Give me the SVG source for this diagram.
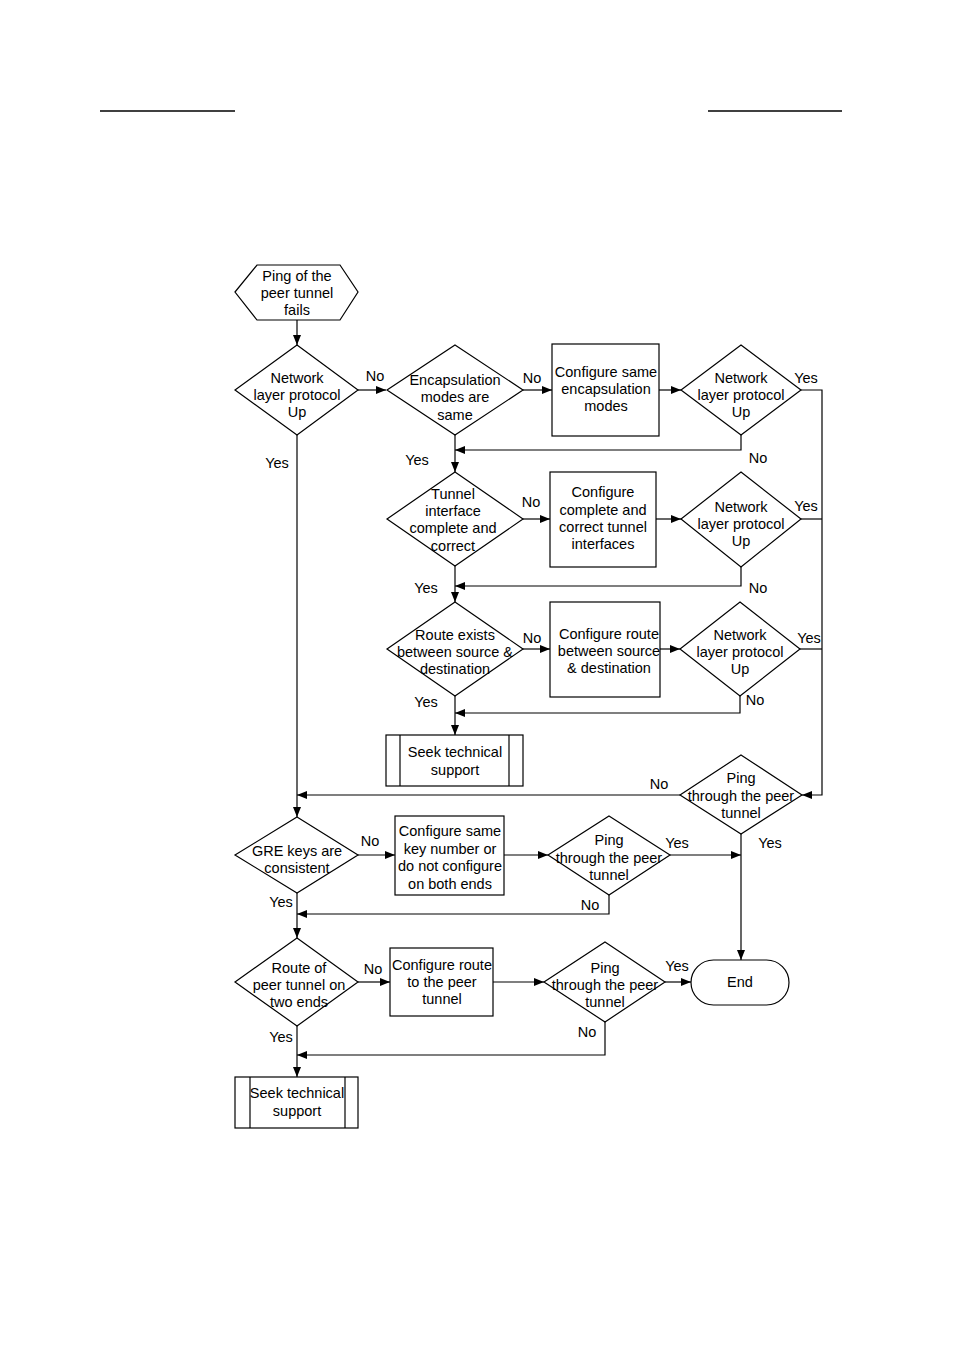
<svg xmlns="http://www.w3.org/2000/svg" width="954" height="1350" viewBox="0 0 954 1350">
<style>
.s{fill:#fff;stroke:#000;stroke-width:1.2}
.l{fill:none;stroke:#000;stroke-width:1.2}
text{font-family:"Liberation Sans",Arial,sans-serif;font-size:14.5px;fill:#000;text-anchor:middle}
</style>
<defs>
<marker id="a" viewBox="0 0 10 8" refX="10" refY="4" markerWidth="10" markerHeight="8" markerUnits="userSpaceOnUse" orient="auto">
<path d="M0,0 L10,4 L0,8 Z" fill="#000"/>
</marker>
</defs>
<rect width="954" height="1350" fill="#fff"/>
<g id="header">
<line x1="100" y1="111" x2="235" y2="111" stroke="#000" stroke-width="1.5"/>
<line x1="708" y1="111" x2="842" y2="111" stroke="#000" stroke-width="1.5"/>
</g>
<g id="connectors">
<path class="l" d="M297,320 V345" marker-end="url(#a)"/>
<path class="l" d="M358,390 H386" marker-end="url(#a)"/>
<path class="l" d="M523,390 H552" marker-end="url(#a)"/>
<path class="l" d="M659,390 H681" marker-end="url(#a)"/>
<path class="l" d="M741,435 V450 H455" marker-end="url(#a)"/>
<path class="l" d="M455,435 V472" marker-end="url(#a)"/>
<path class="l" d="M523,519 H550" marker-end="url(#a)"/>
<path class="l" d="M656,519 H681" marker-end="url(#a)"/>
<path class="l" d="M741,567 V586 H455" marker-end="url(#a)"/>
<path class="l" d="M455,566 V602" marker-end="url(#a)"/>
<path class="l" d="M523,649 H550" marker-end="url(#a)"/>
<path class="l" d="M660,649 H680" marker-end="url(#a)"/>
<path class="l" d="M740,696 V713 H455" marker-end="url(#a)"/>
<path class="l" d="M455,696 V735" marker-end="url(#a)"/>
<path class="l" d="M801,390 H822 V795 H802" marker-end="url(#a)"/>
<path class="l" d="M801,519 H822"/>
<path class="l" d="M800,649 H822"/>
<path class="l" d="M680,795 H297" marker-end="url(#a)"/>
<path class="l" d="M297,435 V817" marker-end="url(#a)"/>
<path class="l" d="M741,834 V960" marker-end="url(#a)"/>
<path class="l" d="M358,855 H395" marker-end="url(#a)"/>
<path class="l" d="M504,855 H548" marker-end="url(#a)"/>
<path class="l" d="M670,855 H741" marker-end="url(#a)"/>
<path class="l" d="M609,895 V914 H297" marker-end="url(#a)"/>
<path class="l" d="M297,893 V938" marker-end="url(#a)"/>
<path class="l" d="M358,982 H390" marker-end="url(#a)"/>
<path class="l" d="M493,982 H544" marker-end="url(#a)"/>
<path class="l" d="M665,982 H691" marker-end="url(#a)"/>
<path class="l" d="M605,1022 V1055 H297" marker-end="url(#a)"/>
<path class="l" d="M297,1026 V1077" marker-end="url(#a)"/>
<text x="375" y="381">No</text>
<text x="532" y="383">No</text>
<text x="806" y="383">Yes</text>
<text x="758" y="463">No</text>
<text x="417" y="465">Yes</text>
<text x="277" y="468">Yes</text>
<text x="531" y="507">No</text>
<text x="806" y="511">Yes</text>
<text x="758" y="593">No</text>
<text x="426" y="593">Yes</text>
<text x="532" y="643">No</text>
<text x="809" y="643">Yes</text>
<text x="755" y="705">No</text>
<text x="426" y="707">Yes</text>
<text x="659" y="789">No</text>
<text x="770" y="848">Yes</text>
<text x="370" y="846">No</text>
<text x="677" y="848">Yes</text>
<text x="590" y="910">No</text>
<text x="281" y="907">Yes</text>
<text x="373" y="974">No</text>
<text x="677" y="971">Yes</text>
<text x="587" y="1037">No</text>
<text x="281" y="1042">Yes</text>
</g>
<g id="start">
<polygon class="s" points="235,292 257,265 340,265 358,292 340,320 257,320"/>
<text x="297" y="281">Ping of the</text>
<text x="297" y="298">peer tunnel</text>
<text x="297" y="315">fails</text>
</g>
<g id="d1">
<polygon class="s" points="297,345 358,390 297,435 235,390"/>
<text x="297" y="383">Network</text>
<text x="297" y="400">layer protocol</text>
<text x="297" y="417">Up</text>
</g>
<g id="d2">
<polygon class="s" points="455,345 523,390 455,435 387,390"/>
<text x="455" y="385">Encapsulation</text>
<text x="455" y="402">modes are</text>
<text x="455" y="420">same</text>
</g>
<g id="b1">
<rect class="s" x="552" y="344" width="107" height="92"/>
<text x="606" y="377">Configure same</text>
<text x="606" y="394">encapsulation</text>
<text x="606" y="411">modes</text>
</g>
<g id="d3">
<polygon class="s" points="741,345 801,390 741,435 681,390"/>
<text x="741" y="383">Network</text>
<text x="741" y="400">layer protocol</text>
<text x="741" y="417">Up</text>
</g>
<g id="d4">
<polygon class="s" points="455,472 523,519 455,566 387,519"/>
<text x="453" y="499">Tunnel</text>
<text x="453" y="516">interface</text>
<text x="453" y="533">complete and</text>
<text x="453" y="551">correct</text>
</g>
<g id="b2">
<rect class="s" x="550" y="472" width="106" height="95"/>
<text x="603" y="497">Configure</text>
<text x="603" y="515">complete and</text>
<text x="603" y="532">correct tunnel</text>
<text x="603" y="549">interfaces</text>
</g>
<g id="d5">
<polygon class="s" points="741,472 801,519 741,567 681,519"/>
<text x="741" y="512">Network</text>
<text x="741" y="529">layer protocol</text>
<text x="741" y="546">Up</text>
</g>
<g id="d6">
<polygon class="s" points="455,602 523,649 455,696 387,649"/>
<text x="455" y="640">Route exists</text>
<text x="455" y="657">between source &amp;</text>
<text x="455" y="674">destination</text>
</g>
<g id="b3">
<rect class="s" x="550" y="602" width="110" height="95"/>
<text x="609" y="639">Configure route</text>
<text x="609" y="656">between source</text>
<text x="609" y="673">&amp; destination</text>
</g>
<g id="d7">
<polygon class="s" points="740,602 800,649 740,696 680,649"/>
<text x="740" y="640">Network</text>
<text x="740" y="657">layer protocol</text>
<text x="740" y="674">Up</text>
</g>
<g id="seek1">
<rect class="s" x="386" y="735" width="137" height="51"/>
<line class="l" x1="400" y1="735" x2="400" y2="786"/>
<line class="l" x1="509" y1="735" x2="509" y2="786"/>
<text x="455" y="757">Seek technical</text>
<text x="455" y="775">support</text>
</g>
<g id="d8">
<polygon class="s" points="741,755 802,795 741,834 680,795"/>
<text x="741" y="783">Ping</text>
<text x="741" y="801">through the peer</text>
<text x="741" y="818">tunnel</text>
</g>
<g id="d9">
<polygon class="s" points="297,817 358,855 297,893 235,855"/>
<text x="297" y="856">GRE keys are</text>
<text x="297" y="873">consistent</text>
</g>
<g id="b4">
<rect class="s" x="395" y="816" width="109" height="79"/>
<text x="450" y="836">Configure same</text>
<text x="450" y="854">key number or</text>
<text x="450" y="871">do not configure</text>
<text x="450" y="889">on both ends</text>
</g>
<g id="d10">
<polygon class="s" points="609,816 670,855 609,895 548,855"/>
<text x="609" y="845">Ping</text>
<text x="609" y="863">through the peer</text>
<text x="609" y="880">tunnel</text>
</g>
<g id="d11">
<polygon class="s" points="297,938 358,982 297,1026 235,982"/>
<text x="299" y="973">Route of</text>
<text x="299" y="990">peer tunnel on</text>
<text x="299" y="1007">two ends</text>
</g>
<g id="b5">
<rect class="s" x="390" y="948" width="103" height="68"/>
<text x="442" y="970">Configure route</text>
<text x="442" y="987">to the peer</text>
<text x="442" y="1004">tunnel</text>
</g>
<g id="d12">
<polygon class="s" points="605,942 665,982 605,1022 544,982"/>
<text x="605" y="973">Ping</text>
<text x="605" y="990">through the peer</text>
<text x="605" y="1007">tunnel</text>
</g>
<g id="end">
<rect class="s" x="691" y="960" width="98" height="45" rx="22.5" ry="22.5"/>
<text x="740" y="987">End</text>
</g>
<g id="seek2">
<rect class="s" x="235" y="1077" width="123" height="51"/>
<line class="l" x1="250" y1="1077" x2="250" y2="1128"/>
<line class="l" x1="345" y1="1077" x2="345" y2="1128"/>
<text x="297" y="1098">Seek technical</text>
<text x="297" y="1116">support</text>
</g>
</svg>
